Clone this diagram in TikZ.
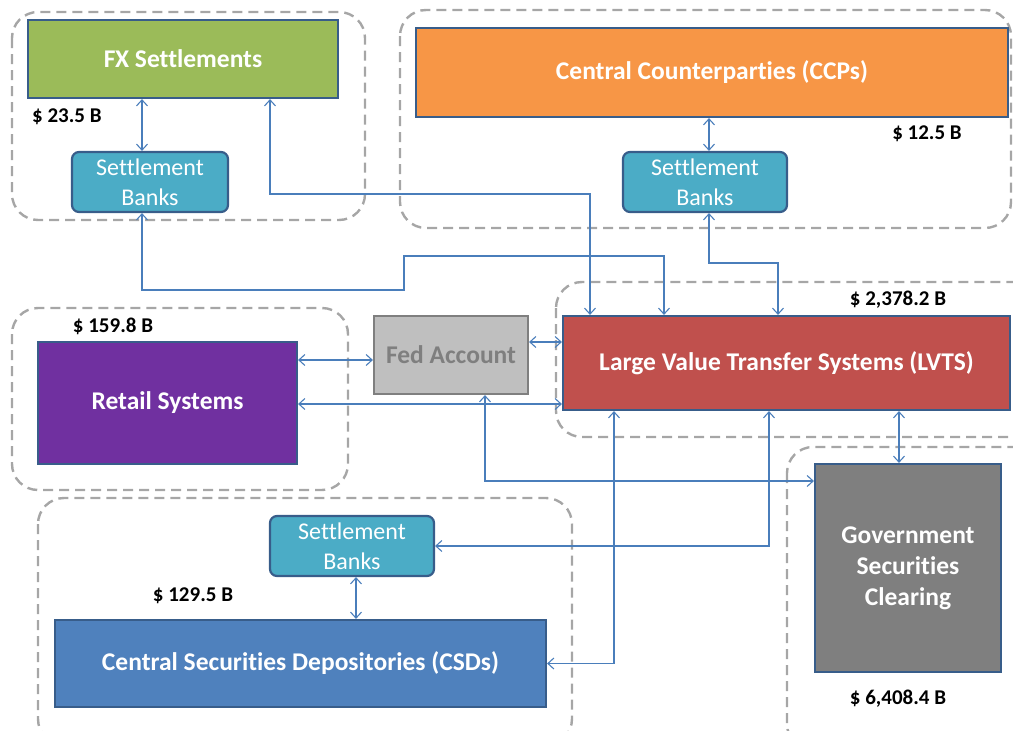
\documentclass[tikz,border=0pt]{standalone}
\usepackage{fontspec}
\setmainfont{Carlito}[Ligatures=NoCommon]
\usetikzlibrary{arrows.meta}

\definecolor{fxgreen}{HTML}{9BBB59}
\definecolor{ccporange}{HTML}{F79646}
\definecolor{lvtsred}{HTML}{C0504D}
\definecolor{retailpurple}{HTML}{7030A0}
\definecolor{govgray}{HTML}{7F7F7F}
\definecolor{csdblue}{HTML}{4F81BD}
\definecolor{bankteal}{HTML}{4BACC6}
\definecolor{fedfill}{HTML}{BFBFBF}
\definecolor{boxline}{HTML}{385D8A}
\definecolor{linkblue}{HTML}{4A7EBB}
\definecolor{grpgray}{HTML}{A6A6A6}

\tikzset{
    sysbox/.style={rectangle, draw=boxline, line width=2.2pt, text=white, align=center,
        inner sep=0pt, font=\fontsize{25.5}{31}\selectfont\bfseries},
    bankbox/.style={sysbox, fill=bankteal, rounded corners=7pt,
        minimum width=164pt, minimum height=60pt, font=\fontsize{24}{30}\selectfont},
    grp/.style={draw=grpgray, line width=2.4pt, dash pattern=on 10pt off 6pt, rounded corners=26pt},
    amount/.style={inner sep=0pt, font=\fontsize{21}{24}\selectfont\bfseries},
    link/.style={draw=linkblue, line width=1.1pt, >={Straight Barb[length=6pt,width=11pt]}, <->}
}

\begin{document}
\begin{tikzpicture}[x=1pt, y=-1pt]
        \useasboundingbox (0,0) rectangle (1013,731);
        \clip (0,0) rectangle (1013,731);

        \draw[grp] (12,12) rectangle (365,220);
        \draw[grp] (400,10) rectangle (1011,228);
        \draw[grp] (556,282) rectangle (1045,437);
        \draw[grp] (12,308) rectangle (348,490);
        \draw[grp] (787,447) rectangle (1045,750);
        \draw[grp] (38,498) rectangle (572,745);

        \node[sysbox, fill=fxgreen, minimum width=310pt, minimum height=78pt] (fx) at (183,59) {FX Settlements};
        \node[bankbox, minimum width=156pt] (fxsb) at (150,182) {Settlement\\Banks};
        \node[amount, anchor=west] (fxamt) at (32,117) {\$ 23.5 B};

        \node[sysbox, fill=ccporange, minimum width=592pt, minimum height=89pt] (ccp) at (712,72.5) {Central Counterparties (CCPs)};
        \node[bankbox] (ccpsb) at (705,182) {Settlement\\Banks};
        \node[amount] (ccpamt) at (927,134) {\$ 12.5 B};

        \node[sysbox, fill=fedfill, draw=govgray, text=govgray, minimum width=154pt, minimum height=78pt] (fed) at (451,355) {Fed Account};

        \node[sysbox, fill=lvtsred, minimum width=447pt, minimum height=94pt] (lvts) at (786.5,363) {Large Value Transfer Systems (LVTS)};
        \node[amount] (lvtsamt) at (898,300) {\$ 2,378.2 B};

        \node[sysbox, fill=retailpurple, minimum width=259pt, minimum height=122pt] (retail) at (167.5,403) {Retail Systems};
        \node[amount] (retailamt) at (113,326) {\$ 159.8 B};

        \node[sysbox, fill=govgray, minimum width=186pt, minimum height=208pt] (gov) at (908,568) {Government\\Securities\\Clearing};
        \node[amount] (govamt) at (898,699) {\$ 6,408.4 B};

        \node[bankbox] (csdsb) at (352,546) {Settlement\\Banks};
        \node[sysbox, fill=csdblue, minimum width=491pt, minimum height=87pt] (csd) at (300.5,663.5) {Central Securities Depositories (CSDs)};
        \node[amount] (csdamt) at (193,596) {\$ 129.5 B};

        \draw[link] (fx.south -| 142,0) -- (fxsb.north -| 142,0);
        \draw[link] (fxsb.south -| 142,0) |- (404,290) |- (664,256) -- (lvts.north -| 664,0);
        \draw[link] (fx.south -| 270,0) |- (590,194) -- (lvts.north -| 590,0);
        \draw[link] (ccp.south -| 709,0) -- (ccpsb.north -| 709,0);
        \draw[link] (ccpsb.south -| 709,0) |- (778,263) -- (lvts.north -| 778,0);
        \draw[link] (retail.east |- 0,360) -- (fed.west |- 0,360);
        \draw[link] (retail.east |- 0,404) -- (lvts.west |- 0,404);
        \draw[link] (fed.east |- 0,342) -- (lvts.west |- 0,342);
        \draw[link] (fed.south -| 485,0) |- (gov.west |- 0,481);
        \draw[link] (lvts.south -| 899,0) -- (gov.north -| 899,0);
        \draw[link] (lvts.south -| 614,0) |- (csd.east);
        \draw[link] (lvts.south -| 769,0) |- (csdsb.east);
        \draw[link] (csdsb.south -| 356,0) -- (csd.north -| 356,0);
    \end{tikzpicture}
\end{document}
